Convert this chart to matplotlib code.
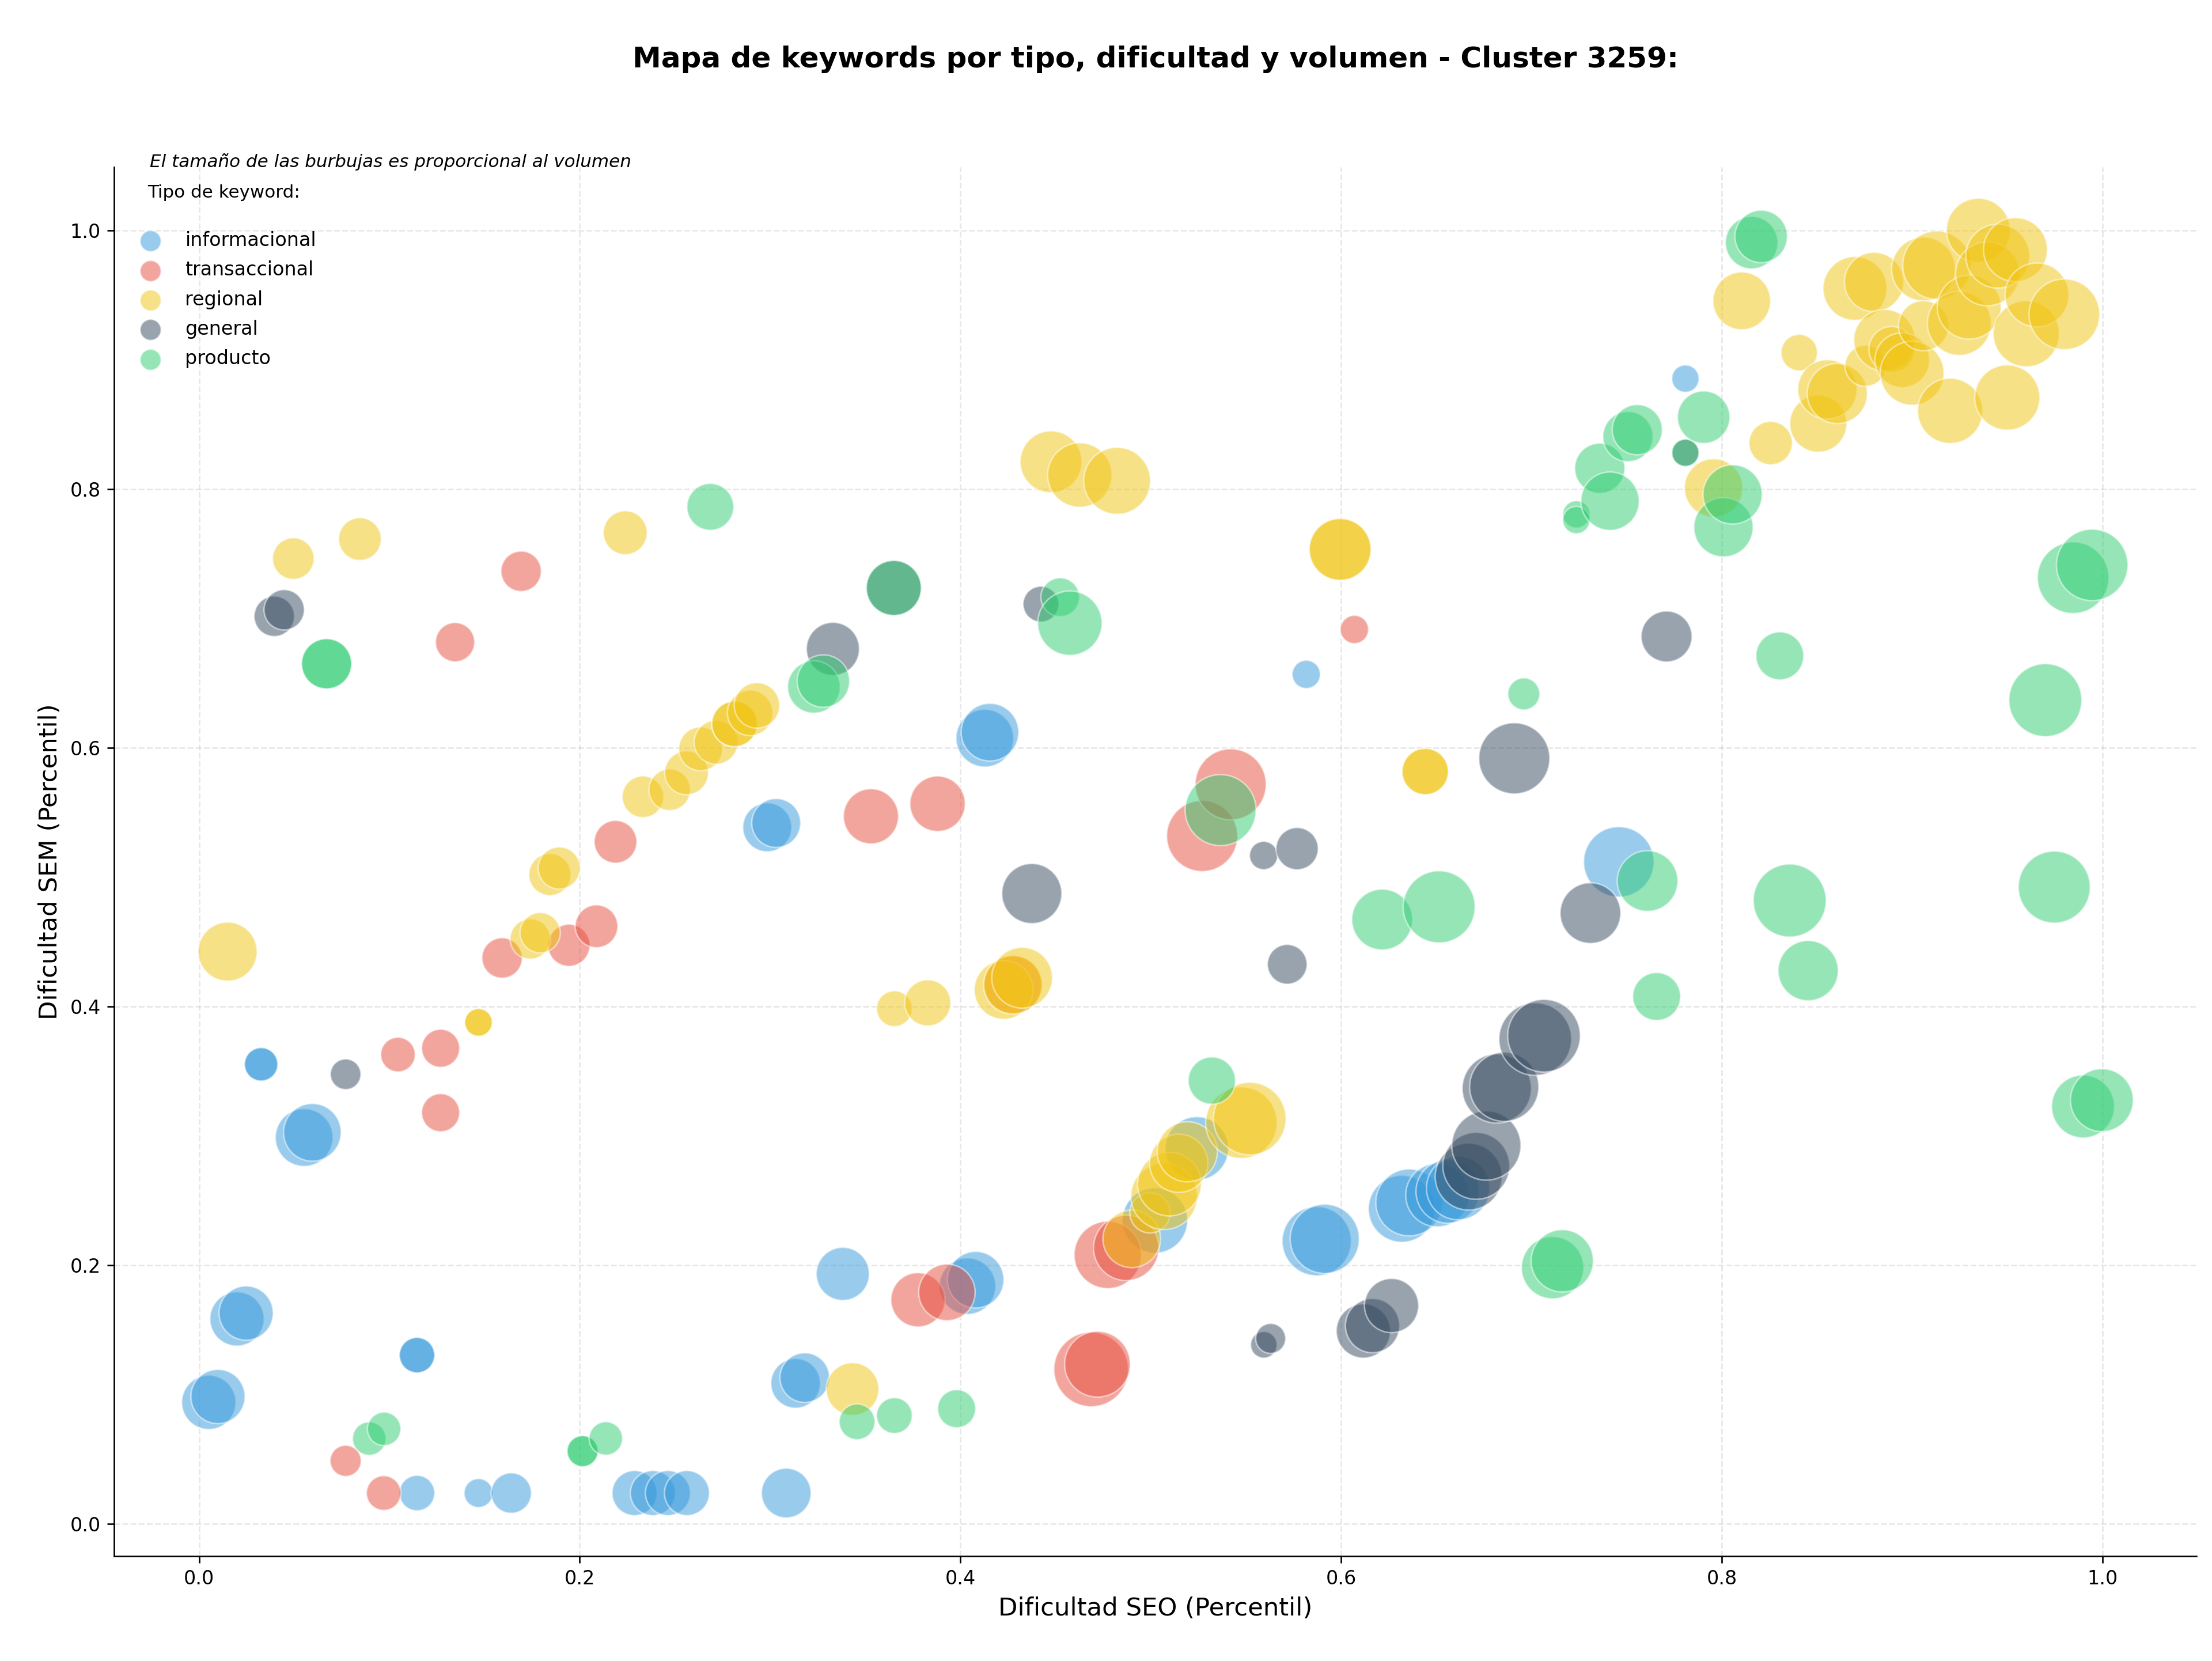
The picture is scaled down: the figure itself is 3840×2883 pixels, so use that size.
import numpy as np
import matplotlib
matplotlib.use("Agg")
import matplotlib.pyplot as plt

# --- datos (dificultad SEO, dificultad SEM, volumen) por tipo de keyword ---
tipos = ["informacional", "transaccional", "regional", "general", "producto"]
colores = ["#3498db", "#e74c3c", "#f1c40f", "#34495e", "#2ecc71"]

info_seo = [0.0051, 0.0099, 0.0199, 0.0247, 0.0326, 0.0326, 0.0552, 0.0595, 0.1145, 0.1145,
            0.1145, 0.1468, 0.164, 0.2288, 0.2384, 0.2463, 0.2563, 0.2985, 0.3032, 0.3085,
            0.3134, 0.3182, 0.3382, 0.4037, 0.408, 0.4128, 0.4155, 0.5022, 0.5242,
            0.5817, 0.5872, 0.5914, 0.6319, 0.6358, 0.6506, 0.656, 0.6615, 0.7459, 0.7809]
info_sem = [0.094, 0.0985, 0.1585, 0.163, 0.3553, 0.3553, 0.2987, 0.3027, 0.1305, 0.1305,
            0.0239, 0.0239, 0.0239, 0.0239, 0.0239, 0.0239, 0.0239, 0.5385, 0.5418, 0.0239,
            0.1087, 0.1131, 0.1933, 0.1838, 0.1888, 0.6074, 0.612, 0.2346, 0.2903,
            0.6567, 0.2186, 0.2204, 0.2436, 0.2485, 0.2542, 0.257, 0.2596, 0.5118, 0.8853]
info_vol = [795, 795, 795, 795, 303, 303, 900, 900, 340, 340,
            340, 225, 441, 548, 548, 548, 548, 648, 648, 666,
            666, 666, 762, 864, 864, 900, 900, 1156, 1089,
            216, 1296, 1296, 1211, 1211, 1089, 1089, 1089, 1340, 202]

trans_seo = [0.077, 0.097, 0.1045, 0.1269, 0.1269, 0.1345, 0.1592, 0.1692, 0.1943, 0.2088,
             0.2188, 0.353, 0.3777, 0.3929, 0.388, 0.4276, 0.4774, 0.4871, 0.4687, 0.472,
             0.527, 0.542, 0.607]
trans_sem = [0.0488, 0.0239, 0.3628, 0.3677, 0.3179, 0.6816, 0.4375, 0.7364, 0.4473, 0.462,
             0.5273, 0.547, 0.1733, 0.179, 0.5567, 0.4168, 0.208, 0.2134, 0.1195, 0.1235,
             0.5318, 0.5717, 0.6914]
trans_vol = [262, 324, 324, 392, 392, 416, 441, 441, 480, 493,
             493, 822, 795, 864, 830, 900, 1225, 1156, 1507, 1170,
             1366, 1366, 216]

reg_seo = [0.015, 0.0495, 0.0845, 0.1468, 0.1468, 0.174, 0.1792, 0.1843, 0.1892, 0.2239,
           0.2332, 0.2472, 0.2561, 0.2635, 0.2716, 0.2813, 0.2813, 0.2895, 0.2931, 0.3433,
           0.3653, 0.3828, 0.4227, 0.4276, 0.4324, 0.4476, 0.4627, 0.4823, 0.490, 0.4996,
           0.507, 0.5098, 0.5147, 0.5192, 0.5476, 0.552, 0.5995, 0.5995, 0.6442, 0.6442,
           0.7957, 0.8105, 0.8257, 0.8407, 0.8507, 0.8555, 0.8607, 0.870, 0.8755, 0.880,
           0.8855, 0.8893, 0.8948, 0.900, 0.906, 0.906, 0.913, 0.920, 0.9248, 0.930,
           0.9348, 0.9396, 0.945, 0.950, 0.9543, 0.960, 0.9656, 0.980]
reg_sem = [0.4424, 0.7462, 0.7613, 0.3877, 0.3877, 0.4522, 0.457, 0.502, 0.507, 0.7662,
           0.5621, 0.5675, 0.5806, 0.5991, 0.6042, 0.6184, 0.6184, 0.6269, 0.6327, 0.1043,
           0.3983, 0.4028, 0.4128, 0.4168, 0.4222, 0.821, 0.8108, 0.8063, 0.2204, 0.2405,
           0.2533, 0.2627, 0.2788, 0.2877, 0.3102, 0.3133, 0.7533, 0.7533, 0.5816, 0.5816,
           0.8008, 0.9454, 0.8355, 0.9054, 0.8505, 0.877, 0.8738, 0.955, 0.8952, 0.960,
           0.915, 0.908, 0.8996, 0.8895, 0.970, 0.9262, 0.973, 0.8604, 0.928, 0.9405,
           1.0, 0.9663, 0.980, 0.8707, 0.985, 0.920, 0.950, 0.935]
reg_vol = [940, 467, 493, 207, 207, 441, 441, 480, 480, 520,
           467, 467, 520, 520, 520, 560, 560, 560, 560, 750,
           346, 576, 936, 936, 1000, 1034, 1121, 1211, 900, 441,
           1200, 1100, 922, 980, 1384, 1429, 1034, 1034, 581, 581,
           922, 900, 509, 360, 880, 951, 980, 1105, 456, 951,
           1026, 562, 809, 1105, 1105, 681, 1266, 1150, 1105, 1105,
           1105, 1105, 1105, 1150, 1105, 1182, 1105, 1353]

gen_seo = [0.0395, 0.0447, 0.077, 0.333, 0.365, 0.4375, 0.4423, 0.5594, 0.563, 0.5593,
           0.5717, 0.5769, 0.6117, 0.6165, 0.6265, 0.667, 0.671, 0.6763, 0.6818, 0.6857,
           0.691, 0.702, 0.7066, 0.731, 0.771, 0.7809]
gen_sem = [0.7016, 0.7066, 0.3476, 0.6764, 0.7235, 0.4873, 0.711, 0.1385, 0.1434, 0.5167,
           0.4326, 0.522, 0.1492, 0.1533, 0.1688, 0.2685, 0.2768, 0.2925, 0.3366, 0.3379,
           0.5918, 0.3748, 0.3774, 0.4722, 0.686, 0.828]
gen_vol = [441, 441, 253, 762, 822, 975, 346, 190, 243, 216,
           426, 482, 795, 795, 795, 1211, 1211, 1296, 1296, 1296,
           1366, 1429, 1429, 996, 700, 202]

prod_seo = [0.067, 0.067, 0.0894, 0.0972, 0.2015, 0.2015, 0.2137, 0.2686, 0.323, 0.328,
            0.3457, 0.3653, 0.365, 0.398, 0.4524, 0.4575, 0.5321, 0.5367, 0.6216, 0.6515,
            0.696, 0.7111, 0.7162, 0.7236, 0.7236, 0.7359, 0.7413, 0.7507, 0.7556, 0.761,
            0.7658, 0.7809, 0.7905, 0.8009, 0.8057, 0.8157, 0.8207, 0.8305, 0.8357, 0.8454,
            0.970, 0.9747, 0.9846, 0.9946, 0.9898, 0.9997]
prod_sem = [0.6649, 0.6649, 0.066, 0.0735, 0.0563, 0.0563, 0.0661, 0.7862, 0.647, 0.6515,
            0.079, 0.0838, 0.7235, 0.0891, 0.7164, 0.6963, 0.3427, 0.5518, 0.4672, 0.477,
            0.6416, 0.1981, 0.2034, 0.7804, 0.776, 0.816, 0.7906, 0.8405, 0.8458, 0.497,
            0.4077, 0.828, 0.8555, 0.7704, 0.7958, 0.9904, 0.9952, 0.671, 0.4819, 0.4277,
            0.6368, 0.4923, 0.7314, 0.7413, 0.3227, 0.3276]
prod_vol = [681, 681, 303, 303, 262, 262, 303, 593, 745, 745,
            346, 346, 822, 392, 404, 1121, 605, 1366, 1000, 1406,
            276, 1050, 1050, 202, 202, 681, 922, 681, 681, 996,
            620, 202, 745, 950, 950, 745, 745, 620, 1440, 980,
            1440, 1400, 1384, 1384, 1070, 1070]

series = [(info_seo, info_sem, info_vol),
          (trans_seo, trans_sem, trans_vol),
          (reg_seo, reg_sem, reg_vol),
          (gen_seo, gen_sem, gen_vol),
          (prod_seo, prod_sem, prod_vol)]

fig, ax = plt.subplots(figsize=(16, 12.0125), dpi=240)
fig.subplots_adjust(left=0.0516, right=0.993, bottom=0.0631, top=0.8994)

for tipo, color, (sx, sy, sv) in zip(tipos, colores, series):
    ax.scatter(sx, sy, s=np.array(sv), c=color, alpha=0.5,
               edgecolors="white", linewidths=0.8, label=tipo)

ax.set_title("Mapa de keywords por tipo, dificultad y volumen - Cluster 3259:",
             fontsize=15, fontweight="bold", pad=52)
ax.set_xlabel("Dificultad SEO (Percentil)", fontsize=13)
ax.set_ylabel("Dificultad SEM (Percentil)", fontsize=13)
ax.grid(True, linestyle="--", alpha=0.3)
ax.set_axisbelow(True)
ax.spines["top"].set_visible(False)
ax.spines["right"].set_visible(False)

ax.text(0.017, 1.0, "El tamaño de las burbujas es proporcional al volumen",
        transform=ax.transAxes, fontsize=9.3, style="italic", va="baseline")

leg = ax.legend(title="Tipo de keyword:\n", loc="upper left", frameon=False,
                fontsize=10, title_fontsize=9.3, labelspacing=0.55)
for h in leg.legend_handles:
    h.set_sizes([120])

fig.savefig("out.png", dpi=240)
